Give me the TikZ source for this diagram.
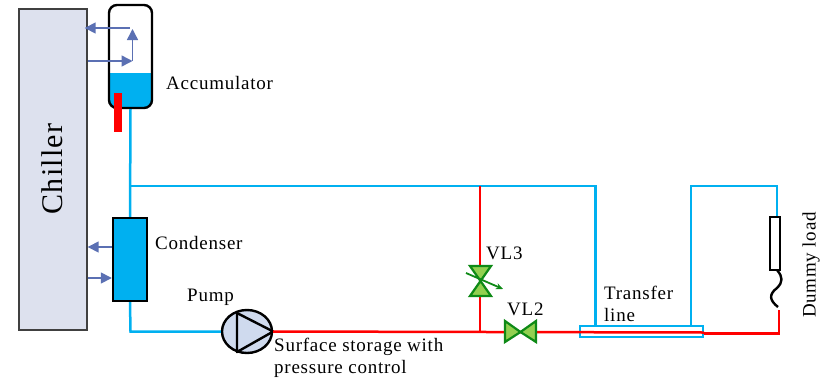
\documentclass[tikz,border=0pt]{standalone}
\usepackage{fontspec}
\setmainfont[LetterSpace=4]{Liberation Serif}
\usetikzlibrary{arrows.meta, calc, shapes.geometric}

\definecolor{chillerfill}{HTML}{DDE1EE}
\definecolor{coldblue}{HTML}{00B0F0}
\definecolor{hotred}{HTML}{FF0000}
\definecolor{linkblue}{HTML}{5B70B3}
\definecolor{pumpfill}{HTML}{CFDAEE}
\definecolor{valvefill}{HTML}{92D050}
\definecolor{valveline}{HTML}{0E8A16}

\tikzset{
  label text/.style={font=\fontsize{19}{22}\selectfont, inner sep=0pt, align=left},
  cold/.style={draw=coldblue, line width=2.5pt},
  hot/.style={draw=hotred, line width=2.5pt},
  link/.style={draw=linkblue, line width=1.5pt, -{Triangle[length=11pt,width=11pt]}},
  vessel/.style={draw=black, line width=2.4pt, inner sep=0pt},
  valve/.style={draw=valveline, fill=valvefill, line width=2.2pt, line join=miter}
}

\begin{document}
\begin{tikzpicture}[x=1pt,y=-1pt]
\useasboundingbox (0,0) rectangle (836,381);

% Draw the chiller
\node [draw=black!75, fill=chillerfill, line width=1.4pt, inner sep=0pt, minimum width=68pt, minimum height=321pt] (Chiller) at (53,169.5) {};
\node [rotate=90, font=\fontsize{30}{36}\selectfont, inner sep=0pt] (ChillerText) at (52,169) {Chiller};

% Junctions on the pipes
\coordinate (T1) at (130.5,186);
\coordinate (T2) at (595.5,186);
\coordinate (T3) at (480,186);
\coordinate (T4) at (480,332.5);
\coordinate (T5) at (130.5,331.5);
\coordinate (T6) at (595.5,326);
\coordinate (T7) at (691,326);
\coordinate (T8) at (691,186);
\coordinate (T9) at (777,186);
\coordinate (T10) at (779,333.5);
\coordinate (T11) at (779,310);

% Draw the vessels
\fill[coldblue] (109,73) -- (152,73) [rounded corners=8pt] -- (152,108) -- (109,108) [sharp corners] -- cycle;
\node [vessel, rounded corners=8pt, minimum width=43pt, minimum height=103pt] (Acc) at (130.5,56.5) {};
\node [vessel, fill=coldblue, minimum width=34pt, minimum height=83pt] (Cond) at (130,259.5) {};
\node [vessel, minimum width=10pt, minimum height=53pt] (Load) at (775,243.5) {};
\node [draw=coldblue, line width=2.2pt, inner sep=0pt, minimum width=123pt, minimum height=11pt] (Line) at (641.5,331.5) {};
\node [ellipse, vessel, fill=pumpfill, minimum width=50pt, minimum height=43pt] (Pump) at (247,331.5) {};
\draw[line width=2.4pt, line join=round] (237,313) -- (Pump.east) -- (237,352) -- cycle;

% Cold pipes
\draw[cold] (Acc.south) -- (Cond.north);
\draw[cold] (T1) -- (T2) -- (T6);
\draw[cold] (Cond.south) -- (T5) -- (Pump.west);
\draw[cold] (T7) -- (T8) -- (T9) -- (T9 |- Load.north);

% Hot pipes
\draw[hot] (Pump.east) -- (Line.east |- T4);
\draw[hot] (Line.east |- T10) -- (T10) -- (T11);
\draw[hot] (T3) -- (T4);
\fill[hotred] (114,93) rectangle (121.5,132);

% Dummy load coil
\draw[line width=2.4pt] (777,270) .. controls (783,277) and (783,282) .. (777,288) .. controls (769,294) and (769,300) .. (778,307);

% Valves
\coordinate (VL3) at (480.5,281);
\coordinate (VL2) at (520.5,332);
\draw[valve] (VL3) -- (470,266) -- (491,266) -- cycle;
\draw[valve] (VL3) -- (470,296) -- (491,296) -- cycle;
\draw[valve, line width=1.8pt, -{Stealth[length=7pt,width=6pt]}] (466,273) -- (503,289);
\draw[valve] (VL2) -- (505,321) -- (505,342) -- cycle;
\draw[valve] (VL2) -- (536,321) -- (536,342) -- cycle;

% Heat links to the chiller
\coordinate (L1) at (130,28);
\coordinate (L2) at (88,61);
\coordinate (L3) at (132.5,61);
\draw[link] (L1) -- ([xshift=-3pt]L1 -| Chiller.east);
\draw[link] (L2) -- (L3);
\draw[link] (L3) -- (132.5,29);
\draw[link] (Cond.west |- 0,247) -- (Chiller.east |- 0,247);
\draw[link] (Chiller.east |- 0,278) -- (Cond.west |- 0,278);

%labels
\node at (166,83) [label text, anchor = west] (AccText) {Accumulator};
\node at (155,243) [label text, anchor = west] (CondText) {Condenser};
\node at (187,297) [label text, anchor = west] (PumpText) {Pump};
\node at (274,358) [label text, anchor = west] (StorageText) {Surface storage with\\pressure control};
\node at (486,253) [label text, anchor = west] (VL3Text) {VL3};
\node at (507,309) [label text, anchor = west] (VL2Text) {VL2};
\node at (604,303.5) [label text, anchor = west] (LineText) {Transfer\\line};
\node at (811,265) [label text, rotate=90] (LoadText) {Dummy load};

\end{tikzpicture}
\end{document}
